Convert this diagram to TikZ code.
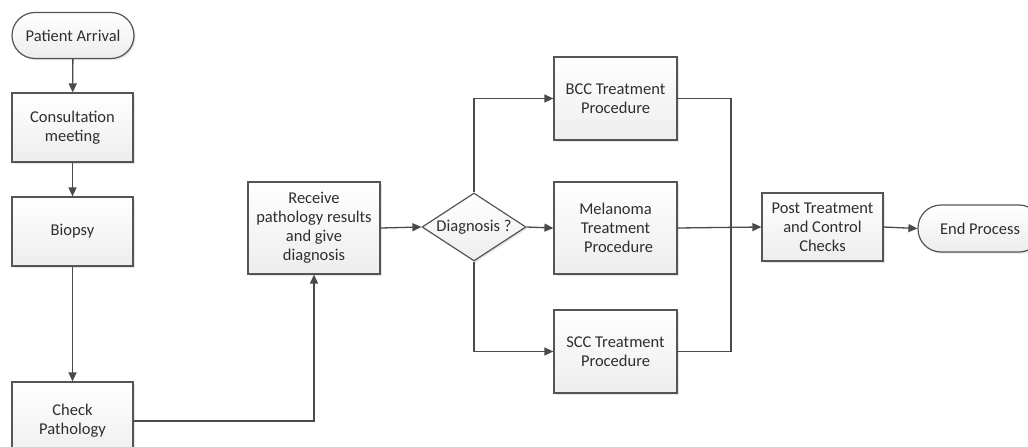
\documentclass[tikz,border=0pt]{standalone}
\usepackage{fontspec}
\setmainfont{Carlito}
\usetikzlibrary{arrows.meta,shapes.geometric,shadows}

\definecolor{edge}{HTML}{555555}
\definecolor{wire}{HTML}{4A4A4A}
\definecolor{ink}{HTML}{2E2E2E}

\tikzset{
  boxshade/.style={top color=white, bottom color=black!7, draw=edge, line width=1.2pt,
    drop shadow={shadow xshift=1.6pt, shadow yshift=-1.6pt, fill=black!25, opacity=0.4}},
  procbox/.style={boxshade, rectangle, align=center, text=ink, inner sep=2pt},
  termbox/.style={boxshade, rectangle, rounded corners=23pt, align=center, text=ink, inner sep=2pt},
  decbox/.style={boxshade, diamond, shape aspect=1.53, inner sep=0pt, text=ink,
    minimum width=104pt, minimum height=68pt},
  flow/.style={draw=wire, line width=1.3pt, -{Triangle[length=9pt,width=8pt]}},
  link/.style={draw=wire, line width=1.3pt},
}

\begin{document}
\begin{tikzpicture}[x=1pt,y=-1pt,font=\fontsize{16.5}{19}\selectfont]
\useasboundingbox (0,0) rectangle (1028,447);
\clip (0,0) rectangle (1028,447);

% left column
\node[termbox, minimum width=122pt, minimum height=46pt] (arrival) at (73,35.5) {Patient Arrival};
\node[procbox, minimum width=121pt, minimum height=69pt] (consult) at (72.5,127.5) {Consultation\\meeting};
\node[procbox, minimum width=121pt, minimum height=69pt] (biopsy) at (72.5,231.5) {Biopsy};
\node[procbox, minimum width=121pt, minimum height=78pt] (check) at (72.5,421) {Check\\Pathology};

% diagnosis stage
\node[procbox, minimum width=132pt, minimum height=92pt] (receive) at (314,228) {Receive\\pathology results\\and give\\diagnosis};
\node[decbox] (diag) at (474,227) {Diagnosis ?};

% treatment branches
\node[procbox, minimum width=123pt, minimum height=83pt] (bcc) at (615.5,98.5) {BCC Treatment\\Procedure};
\node[procbox, minimum width=123pt, minimum height=92pt] (mel) at (615.5,228) {Melanoma\\Treatment\\\hspace*{6pt}Procedure};
\node[procbox, minimum width=123pt, minimum height=83pt] (scc) at (615.5,351.5) {SCC Treatment\\Procedure};

% closing steps
\node[procbox, minimum width=121pt, minimum height=68pt] (post) at (822.5,227) {Post Treatment\\and Control\\Checks};
\node[termbox, minimum width=124pt, minimum height=47pt] (finish) at (980,228.5) {End Process};

\coordinate (join) at (731,228);

% connectors
\draw[flow] (arrival) -- (consult);
\draw[flow] (consult) -- (biopsy);
\draw[flow] (biopsy) -- (check);
\draw[flow] (check.east) -| (receive.south);
\draw[flow] (receive.east) -- (diag.west);
\draw[flow] (diag.north) |- (bcc.west);
\draw[flow] (diag.east) -- (mel.west);
\draw[flow] (diag.south) |- (scc.west);
\draw[link] (bcc.east) -| (join) |- (scc.east);
\draw[flow] (mel.east) -- (post.west);
\draw[flow] (post.east) -- (finish.west);
\end{tikzpicture}
\end{document}
